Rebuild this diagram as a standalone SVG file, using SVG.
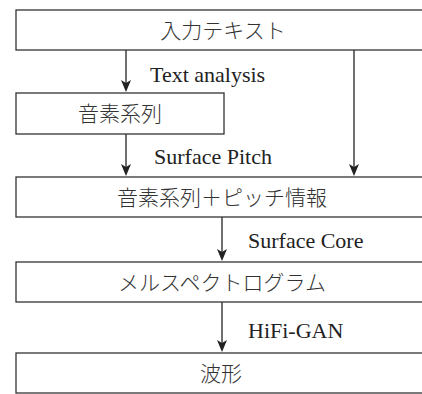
<svg xmlns="http://www.w3.org/2000/svg" width="422" height="394" viewBox="0 0 422 394">
  <style>
    .box { fill: #ffffff; stroke: #333333; stroke-width: 1.3; }
    .jp { font-family: "Noto Sans CJK JP", "Noto Sans", sans-serif; font-size: 21px; font-weight: 300; fill: #333333; text-anchor: middle; }
    .lbl { font-family: "Liberation Serif", "Times New Roman", serif; font-size: 22px; fill: #222222; }
    .conn { stroke: #222222; stroke-width: 1.3; fill: none; }
    .head { fill: #222222; }
  </style>
  <defs>
    <!-- downward arrowhead, tip at the origin -->
    <path id="head" class="head" d="M-5,-12 L0,-9 L5,-12 L0,0 Z"/>
  </defs>
  <rect width="422" height="394" fill="#ffffff"/>

  <g id="connectors">
    <line class="conn" x1="126" y1="50" x2="126" y2="90"/>
    <use href="#head" x="126" y="92"/>
    <line class="conn" x1="126" y1="134" x2="126" y2="174"/>
    <use href="#head" x="126" y="176"/>
    <line class="conn" x1="354" y1="50" x2="354" y2="174"/>
    <use href="#head" x="354" y="176"/>
    <line class="conn" x1="222" y1="217" x2="222" y2="259"/>
    <use href="#head" x="222" y="261"/>
    <line class="conn" x1="222" y1="302" x2="222" y2="350"/>
    <use href="#head" x="222" y="352"/>
    <text class="lbl" x="150" y="82">Text analysis</text>
    <text class="lbl" x="154" y="164">Surface Pitch</text>
    <text class="lbl" x="248" y="248">Surface Core</text>
    <text class="lbl" x="248" y="338">HiFi-GAN</text>
  </g>

  <g id="input-text">
    <rect class="box" x="16" y="10" width="420" height="40"/>
    <text class="jp" x="223" y="38">入力テキスト</text>
  </g>
  <g id="phonemes">
    <rect class="box" x="16" y="93" width="208" height="41"/>
    <text class="jp" x="120" y="121">音素系列</text>
  </g>
  <g id="phonemes-pitch">
    <rect class="box" x="16" y="177" width="420" height="40"/>
    <text class="jp" x="222" y="205">音素系列＋ピッチ情報</text>
  </g>
  <g id="mel-spectrogram">
    <rect class="box" x="16" y="262" width="420" height="40"/>
    <text class="jp" x="222" y="290">メルスペクトログラム</text>
  </g>
  <g id="waveform">
    <rect class="box" x="16" y="353" width="420" height="40"/>
    <text class="jp" x="221" y="381">波形</text>
  </g>
</svg>
